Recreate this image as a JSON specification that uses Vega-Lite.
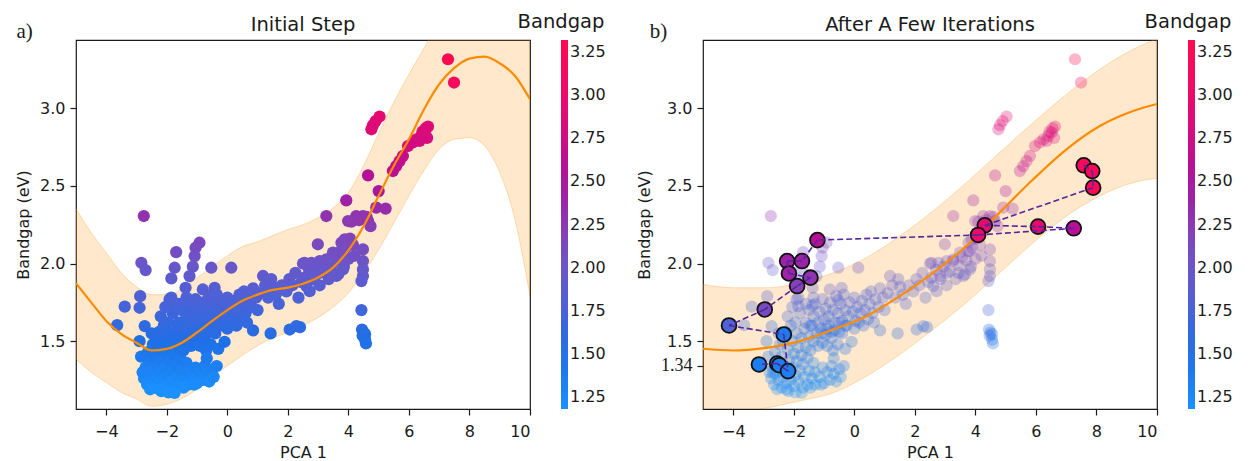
{
  "$schema": "https://vega.github.io/schema/vega-lite/v6.json",
  "background": "white",
  "padding": {"left": 14, "top": 11, "right": 0, "bottom": 0},
  "bounds": "flush",
  "spacing": 173,
  "config": {
    "font": "DejaVu Sans",
    "view": {"stroke": "#1a1a1a", "strokeWidth": 1.2},
    "axis": {"grid": false, "domain": false, "tickColor": "#1a1a1a", "tickSize": 6, "tickWidth": 1.2, "labelFontSize": 16, "labelColor": "#1a1a1a", "labelPadding": 5, "titleFontSize": 16, "titleFontWeight": "normal", "titleColor": "#1a1a1a"},
    "title": {"fontSize": 19.5, "fontWeight": "normal", "color": "#1a1a1a", "offset": -22.7},
    "legend": {"orient": "none", "legendX": 442, "legendY": -27.5, "direction": "vertical", "gradientLength": 369, "gradientThickness": 7, "titleFontSize": 19.5, "titleFontWeight": "normal", "titleAnchor": "start", "titleAlign": "center", "titlePadding": 8, "labelFontSize": 16, "labelOffset": 20, "labelOverlap": false, "gradientStrokeWidth": 0, "labelColor": "#1a1a1a", "titleColor": "#1a1a1a"}
  },
  "resolve": {"scale": {"color": "independent"}, "legend": {"color": "independent"}},
  "datasets": {
    "pts": [
      {"pca":-2.80,"gap":1.30},{"pca":-2.75,"gap":1.26},{"pca":-2.70,"gap":1.33},{"pca":-2.65,"gap":1.22},{"pca":-2.60,"gap":1.29},{"pca":-2.55,"gap":1.36},{"pca":-2.50,"gap":1.25},{"pca":-2.45,"gap":1.31},{"pca":-2.40,"gap":1.20},{"pca":-2.40,"gap":1.40},
      {"pca":-2.35,"gap":1.27},{"pca":-2.30,"gap":1.34},{"pca":-2.25,"gap":1.23},{"pca":-2.20,"gap":1.45},{"pca":-2.20,"gap":1.30},{"pca":-2.15,"gap":1.38},{"pca":-2.10,"gap":1.25},{"pca":-2.05,"gap":1.50},{"pca":-2.05,"gap":1.33},{"pca":-2.00,"gap":1.42},
      {"pca":-2.00,"gap":1.21},{"pca":-1.95,"gap":1.28},{"pca":-1.90,"gap":1.55},{"pca":-1.90,"gap":1.37},{"pca":-1.85,"gap":1.46},{"pca":-1.85,"gap":1.24},{"pca":-1.80,"gap":1.31},{"pca":-1.75,"gap":1.52},{"pca":-1.75,"gap":1.41},{"pca":-1.70,"gap":1.20},
      {"pca":-1.70,"gap":1.35},{"pca":-1.65,"gap":1.58},{"pca":-1.65,"gap":1.27},{"pca":-1.60,"gap":1.46},{"pca":-1.55,"gap":1.39},{"pca":-1.55,"gap":1.22},{"pca":-1.50,"gap":1.53},{"pca":-1.50,"gap":1.31},{"pca":-1.45,"gap":1.44},{"pca":-1.40,"gap":1.26},
      {"pca":-1.40,"gap":1.60},{"pca":-1.35,"gap":1.36},{"pca":-1.35,"gap":1.50},{"pca":-1.30,"gap":1.22},{"pca":-1.30,"gap":1.30},{"pca":-1.25,"gap":1.55},{"pca":-1.20,"gap":1.47},{"pca":-1.15,"gap":1.27},{"pca":-1.10,"gap":1.58},{"pca":-1.05,"gap":1.33},
      {"pca":-1.05,"gap":1.49},{"pca":-1.00,"gap":1.23},{"pca":-0.95,"gap":1.54},{"pca":-0.90,"gap":1.30},{"pca":-0.90,"gap":1.47},{"pca":-0.85,"gap":1.60},{"pca":-0.80,"gap":1.25},{"pca":-0.75,"gap":1.34},{"pca":-0.75,"gap":1.52},{"pca":-0.70,"gap":1.44},
      {"pca":-0.68,"gap":1.39},{"pca":-0.68,"gap":1.29},{"pca":-0.65,"gap":1.57},{"pca":-0.60,"gap":1.24},{"pca":-0.55,"gap":1.48},{"pca":-0.50,"gap":1.32},{"pca":-0.50,"gap":1.62},{"pca":-0.45,"gap":1.27},{"pca":-0.40,"gap":1.55},{"pca":-0.35,"gap":1.34},
      {"pca":-0.30,"gap":1.45},{"pca":-0.30,"gap":1.60},{"pca":-2.55,"gap":1.19},{"pca":-2.18,"gap":1.178},{"pca":-1.74,"gap":1.167},{"pca":-2.24,"gap":1.19},{"pca":-2.68,"gap":1.296},{"pca":-1.95,"gap":1.17},{"pca":-1.45,"gap":1.20},{"pca":-1.10,"gap":1.22},
      {"pca":-2.90,"gap":1.50},{"pca":-2.73,"gap":1.597},{"pca":-2.46,"gap":1.479},{"pca":-2.62,"gap":1.43},{"pca":-2.35,"gap":1.50},{"pca":-2.25,"gap":1.56},{"pca":-2.10,"gap":1.60},{"pca":-2.50,"gap":1.55},{"pca":-1.95,"gap":1.62},{"pca":-2.85,"gap":1.40},
      {"pca":-2.76,"gap":2.306},{"pca":-2.84,"gap":2.005},{"pca":-2.70,"gap":1.958},{"pca":-1.69,"gap":2.074},{"pca":-1.74,"gap":1.973},{"pca":-1.85,"gap":1.904},{"pca":-0.92,"gap":2.134},{"pca":-1.05,"gap":2.102},{"pca":-1.08,"gap":2.048},{"pca":-1.14,"gap":1.98},
      {"pca":-1.25,"gap":1.919},{"pca":-0.53,"gap":1.973},{"pca":0.13,"gap":1.973},{"pca":-2.88,"gap":1.79},{"pca":-2.90,"gap":1.715},{"pca":-3.39,"gap":1.722},{"pca":-3.64,"gap":1.603},{"pca":-1.85,"gap":1.78},{"pca":-1.85,"gap":1.726},{"pca":-1.38,"gap":1.844},
      {"pca":-1.35,"gap":1.78},{"pca":-1.38,"gap":1.73},{"pca":-0.81,"gap":1.833},{"pca":-0.42,"gap":1.844},{"pca":-0.53,"gap":1.764},{"pca":0.85,"gap":1.569},{"pca":1.43,"gap":1.55},{"pca":2.06,"gap":1.575},{"pca":2.28,"gap":1.597},{"pca":2.40,"gap":1.59},
      {"pca":-0.09,"gap":1.496},{"pca":-1.91,"gap":1.769},{"pca":-2.20,"gap":1.66},{"pca":-1.80,"gap":1.68},{"pca":-2.05,"gap":1.72},{"pca":-1.60,"gap":1.74},
      {"pca":4.43,"gap":1.70},{"pca":4.45,"gap":1.575},{"pca":4.50,"gap":1.555},{"pca":4.47,"gap":1.535},{"pca":4.55,"gap":1.545},{"pca":4.55,"gap":1.51},{"pca":4.58,"gap":1.485},
      {"pca":-1.60,"gap":1.62},{"pca":-1.50,"gap":1.70},{"pca":-1.45,"gap":1.60},{"pca":-1.35,"gap":1.66},{"pca":-1.30,"gap":1.74},{"pca":-1.20,"gap":1.62},{"pca":-1.15,"gap":1.69},{"pca":-1.05,"gap":1.77},{"pca":-1.00,"gap":1.64},{"pca":-0.95,"gap":1.71},
      {"pca":-0.85,"gap":1.66},{"pca":-0.80,"gap":1.75},{"pca":-0.70,"gap":1.70},{"pca":-0.65,"gap":1.62},{"pca":-0.60,"gap":1.79},{"pca":-0.55,"gap":1.68},{"pca":-0.45,"gap":1.74},{"pca":-0.40,"gap":1.63},{"pca":-0.35,"gap":1.80},{"pca":-0.30,"gap":1.70},
      {"pca":-0.20,"gap":1.66},{"pca":-0.15,"gap":1.75},{"pca":-0.05,"gap":1.69},{"pca":0.00,"gap":1.78},{"pca":0.05,"gap":1.63},{"pca":0.10,"gap":1.72},{"pca":0.20,"gap":1.68},{"pca":0.25,"gap":1.76},{"pca":0.35,"gap":1.70},{"pca":0.40,"gap":1.80},
      {"pca":0.50,"gap":1.74},{"pca":0.55,"gap":1.82},{"pca":0.60,"gap":1.68},{"pca":0.70,"gap":1.77},{"pca":0.80,"gap":1.72},{"pca":0.85,"gap":1.84},{"pca":0.95,"gap":1.78},{"pca":1.00,"gap":1.70},{"pca":1.10,"gap":1.81},{"pca":1.18,"gap":1.92},
      {"pca":1.25,"gap":1.86},{"pca":1.35,"gap":1.78},{"pca":1.45,"gap":1.90},{"pca":1.51,"gap":1.85},{"pca":1.60,"gap":1.80},{"pca":1.70,"gap":1.74},{"pca":1.80,"gap":1.86},{"pca":1.95,"gap":1.82},{"pca":2.05,"gap":1.90},{"pca":2.15,"gap":1.86},
      {"pca":2.25,"gap":1.94},{"pca":2.35,"gap":1.78},{"pca":2.45,"gap":1.88},{"pca":2.50,"gap":2.00},{"pca":2.61,"gap":1.855},{"pca":2.70,"gap":1.96},{"pca":2.85,"gap":1.90},{"pca":2.95,"gap":1.98},{"pca":3.05,"gap":1.86},{"pca":3.15,"gap":1.95},
      {"pca":3.27,"gap":2.016},{"pca":3.35,"gap":1.90},{"pca":3.45,"gap":1.99},{"pca":3.55,"gap":2.04},{"pca":3.60,"gap":1.92},{"pca":3.70,"gap":2.02},{"pca":3.75,"gap":2.08},{"pca":3.85,"gap":1.98},{"pca":3.90,"gap":2.10},{"pca":4.00,"gap":2.03},
      {"pca":4.05,"gap":2.16},{"pca":4.15,"gap":2.12},{"pca":4.20,"gap":2.05},{"pca":-0.90,"gap":1.58},{"pca":-0.50,"gap":1.56},{"pca":-0.25,"gap":1.60},{"pca":0.15,"gap":1.62},{"pca":0.45,"gap":1.64},{"pca":0.00,"gap":1.58},{"pca":-0.75,"gap":1.56},
      {"pca":-1.10,"gap":1.55},{"pca":0.30,"gap":1.60},{"pca":0.65,"gap":1.62},
      {"pca":7.29,"gap":3.316},{"pca":7.49,"gap":3.166},{"pca":5.03,"gap":2.947},{"pca":4.90,"gap":2.918},{"pca":4.81,"gap":2.891},{"pca":4.76,"gap":2.865},{"pca":6.63,"gap":2.882},{"pca":6.52,"gap":2.844},{"pca":6.41,"gap":2.822},{"pca":6.25,"gap":2.80},
      {"pca":6.13,"gap":2.78},{"pca":5.97,"gap":2.757},{"pca":5.80,"gap":2.693},{"pca":5.69,"gap":2.66},{"pca":5.58,"gap":2.628},{"pca":5.47,"gap":2.596},{"pca":4.65,"gap":2.568},{"pca":5.00,"gap":2.467},{"pca":3.93,"gap":2.407},{"pca":4.92,"gap":2.36},
      {"pca":5.23,"gap":2.354},{"pca":3.27,"gap":2.306},{"pca":3.99,"gap":2.274},{"pca":4.26,"gap":2.306},{"pca":4.48,"gap":2.306},{"pca":4.65,"gap":2.274},{"pca":4.73,"gap":2.241},{"pca":3.88,"gap":2.156},{"pca":3.77,"gap":2.134},{"pca":4.48,"gap":2.091},
      {"pca":2.99,"gap":2.124},{"pca":3.82,"gap":2.08},{"pca":3.49,"gap":2.07},{"pca":3.27,"gap":2.027},{"pca":3.05,"gap":2.016},{"pca":2.78,"gap":2.005},{"pca":2.55,"gap":2.005},{"pca":4.48,"gap":2.016},{"pca":4.48,"gap":1.962},{"pca":4.48,"gap":1.919},
      {"pca":4.43,"gap":1.887},{"pca":3.82,"gap":1.962},{"pca":3.66,"gap":1.93},{"pca":3.44,"gap":1.94},{"pca":3.05,"gap":1.94},{"pca":2.83,"gap":1.92},{"pca":2.55,"gap":1.909},{"pca":2.72,"gap":1.822},{"pca":6.55,"gap":2.87},{"pca":6.45,"gap":2.85},
      {"pca":6.60,"gap":2.81},{"pca":6.35,"gap":2.79},{"pca":4.10,"gap":2.27},{"pca":4.35,"gap":2.28},{"pca":4.60,"gap":2.30}
    ],
    "curveA": [
      {"pca":-5,"mean":1.873,"lo":1.384,"hi":2.354},{"pca":-4.5,"mean":1.75,"lo":1.30,"hi":2.20},{"pca":-4,"mean":1.63,"lo":1.234,"hi":2.07},{"pca":-3.5,"mean":1.545,"lo":1.17,"hi":1.94},
      {"pca":-3,"mean":1.49,"lo":1.127,"hi":1.85},{"pca":-2.5,"mean":1.44,"lo":1.08,"hi":1.80},{"pca":-2,"mean":1.45,"lo":1.094,"hi":1.80},{"pca":-1.5,"mean":1.49,"lo":1.13,"hi":1.84},
      {"pca":-1,"mean":1.556,"lo":1.19,"hi":1.91},{"pca":-0.5,"mean":1.63,"lo":1.27,"hi":1.98},{"pca":0,"mean":1.70,"lo":1.34,"hi":2.05},{"pca":0.5,"mean":1.76,"lo":1.41,"hi":2.11},
      {"pca":1,"mean":1.80,"lo":1.47,"hi":2.14},{"pca":1.5,"mean":1.83,"lo":1.52,"hi":2.18},{"pca":2,"mean":1.845,"lo":1.556,"hi":2.22},{"pca":2.5,"mean":1.87,"lo":1.60,"hi":2.25},
      {"pca":3,"mean":1.91,"lo":1.652,"hi":2.296},{"pca":3.5,"mean":1.975,"lo":1.72,"hi":2.36},{"pca":4,"mean":2.085,"lo":1.81,"hi":2.457},{"pca":4.5,"mean":2.24,"lo":1.94,"hi":2.63},
      {"pca":5,"mean":2.436,"lo":2.09,"hi":2.84},{"pca":5.5,"mean":2.63,"lo":2.26,"hi":3.04},{"pca":6,"mean":2.80,"lo":2.436,"hi":3.22},{"pca":6.5,"mean":2.994,"lo":2.60,"hi":3.388},
      {"pca":7,"mean":3.155,"lo":2.736,"hi":3.574},{"pca":7.5,"mean":3.26,"lo":2.80,"hi":3.72},{"pca":8,"mean":3.32,"lo":2.81,"hi":3.83},{"pca":8.5,"mean":3.333,"lo":2.757,"hi":3.909},
      {"pca":9,"mean":3.29,"lo":2.586,"hi":3.994},{"pca":9.5,"mean":3.21,"lo":2.285,"hi":4.135},{"pca":10,"mean":3.058,"lo":1.79,"hi":4.326}
    ],
    "curveB": [
      {"pca":-5,"mean":1.451,"lo":1.036,"hi":1.866},{"pca":-4.01,"mean":1.44,"lo":1.035,"hi":1.844},{"pca":-2.9,"mean":1.457,"lo":1.07,"hi":1.844},{"pca":-1.8,"mean":1.50,"lo":1.115,"hi":1.877},
      {"pca":-0.7,"mean":1.575,"lo":1.167,"hi":1.94},{"pca":0.4,"mean":1.661,"lo":1.274,"hi":2.038},{"pca":1.5,"mean":1.79,"lo":1.414,"hi":2.177},{"pca":2.6,"mean":1.94,"lo":1.575,"hi":2.338},
      {"pca":3.7,"mean":2.113,"lo":1.748,"hi":2.521},{"pca":4.8,"mean":2.328,"lo":1.94,"hi":2.715},{"pca":5.91,"mean":2.543,"lo":2.134,"hi":2.908},{"pca":7.01,"mean":2.736,"lo":2.306,"hi":3.09},
      {"pca":8.11,"mean":2.886,"lo":2.435,"hi":3.252},{"pca":9.21,"mean":2.983,"lo":2.521,"hi":3.38},{"pca":10,"mean":3.028,"lo":2.55,"hi":3.45}
    ],
    "hl": [
      {"pca":7.58,"gap":2.633,"c":3.2},{"pca":7.86,"gap":2.596,"c":3.2},{"pca":7.89,"gap":2.489,"c":3.25},{"pca":4.31,"gap":2.246,"c":2.95},{"pca":4.09,"gap":2.184,"c":3.0},
      {"pca":6.07,"gap":2.238,"c":2.95},{"pca":7.25,"gap":2.227,"c":2.6},{"pca":-1.22,"gap":2.151,"c":2.6},{"pca":-2.22,"gap":2.016,"c":2.4},{"pca":-1.73,"gap":2.016,"c":2.4},
      {"pca":-2.16,"gap":1.936,"c":2.4},{"pca":-1.45,"gap":1.909,"c":2.3},{"pca":-1.89,"gap":1.855,"c":2.2},{"pca":-2.96,"gap":1.704,"c":2.1},{"pca":-4.14,"gap":1.601,"c":1.8},
      {"pca":-2.33,"gap":1.543,"c":1.4},{"pca":-3.15,"gap":1.35,"c":1.35},{"pca":-2.55,"gap":1.356,"c":1.35},{"pca":-2.48,"gap":1.345,"c":1.35},{"pca":-2.19,"gap":1.307,"c":1.35}
    ],
    "arrows": [
      {"pca":7.58,"gap":2.633,"pca2":7.86,"gap2":2.596},{"pca":7.86,"gap":2.596,"pca2":7.89,"gap2":2.489},{"pca":7.89,"gap":2.489,"pca2":4.31,"gap2":2.246},
      {"pca":4.31,"gap":2.246,"pca2":6.07,"gap2":2.238},{"pca":6.07,"gap":2.238,"pca2":7.25,"gap2":2.227},{"pca":7.25,"gap":2.227,"pca2":4.09,"gap2":2.184},
      {"pca":4.09,"gap":2.184,"pca2":-1.22,"gap2":2.151},{"pca":-1.22,"gap":2.151,"pca2":-1.73,"gap2":2.016},{"pca":-1.73,"gap":2.016,"pca2":-2.22,"gap2":2.016},
      {"pca":-2.22,"gap":2.016,"pca2":-2.16,"gap2":1.936},{"pca":-2.16,"gap":1.936,"pca2":-1.45,"gap2":1.909},{"pca":-1.45,"gap":1.909,"pca2":-1.89,"gap2":1.855},
      {"pca":-1.89,"gap":1.855,"pca2":-2.96,"gap2":1.704},{"pca":-2.96,"gap":1.704,"pca2":-4.14,"gap2":1.601},{"pca":-4.14,"gap":1.601,"pca2":-2.33,"gap2":1.543},
      {"pca":-2.33,"gap":1.543,"pca2":-2.19,"gap2":1.307},{"pca":-2.19,"gap":1.307,"pca2":-2.55,"gap2":1.356},{"pca":-2.55,"gap":1.356,"pca2":-3.15,"gap2":1.35}
    ]
  },
  "hconcat": [
    {
      "width": 454,
      "height": 369,
      "title": "Initial Step",
      "layer": [
        {
          "data": {"name": "curveA"},
          "mark": {"type": "area", "clip": true, "interpolate": "monotone", "fill": "#ff8c00", "fillOpacity": 0.2, "stroke": "#ff8c00", "strokeOpacity": 0.25, "strokeWidth": 1},
          "encoding": {
            "x": {"field": "pca", "type": "quantitative", "title": "PCA 1", "scale": {"domain": [-5, 10], "nice": false, "zero": false}, "axis": {"values": [-4,-2,0,2,4,6,8,10], "format": "d", "titlePadding": 5, "labelPadding": 8}},
            "y": {"field": "lo", "type": "quantitative", "title": "Bandgap (eV)", "scale": {"domain": [1.063, 3.44], "nice": false, "zero": false}, "axis": {"values": [1.5,2,2.5,3], "format": ".1f", "titlePadding": 8}},
            "y2": {"field": "hi"}
          }
        },
        {
          "data": {"name": "pts"},
          "mark": {"type": "circle", "size": 150, "opacity": 1},
          "encoding": {
            "x": {"field": "pca", "type": "quantitative", "title": "PCA 1"},
            "y": {"field": "gap", "type": "quantitative", "title": "Bandgap (eV)"},
            "color": {"field": "gap", "type": "quantitative", "title": "Bandgap",
              "scale": {"domain": [1.18,1.5,1.75,2.0,2.25,2.5,2.75,3.0,3.32], "range": ["#1a90ff","#1f6fe6","#4a62d8","#6a56c8","#8a3cb4","#a8139f","#d00c84","#ec0a6a","#ff0a50"], "interpolate": "rgb"},
              "legend": {"values": [1.25,1.5,1.75,2,2.25,2.5,2.75,3,3.25], "format": ".2f"}}
          }
        },
        {
          "data": {"name": "curveA"},
          "mark": {"type": "line", "clip": true, "interpolate": "monotone", "color": "#ff8c00", "strokeWidth": 2.2},
          "encoding": {
            "x": {"field": "pca", "type": "quantitative", "title": "PCA 1"},
            "y": {"field": "mean", "type": "quantitative", "title": "Bandgap (eV)"}
          }
        },
        {
          "data": {"values": [{"lab": "a)"}]},
          "mark": {"type": "text", "font": "Liberation Serif", "fontSize": 21, "align": "center", "baseline": "middle", "color": "#1a1a1a"},
          "encoding": {
            "x": {"datum": -6.7, "type": "quantitative"},
            "y": {"datum": 3.49, "type": "quantitative"},
            "text": {"field": "lab"}
          }
        }
      ]
    },
    {
      "width": 454,
      "height": 369,
      "title": "After A Few Iterations",
      "layer": [
        {
          "data": {"name": "curveB"},
          "mark": {"type": "area", "clip": true, "interpolate": "monotone", "fill": "#ff8c00", "fillOpacity": 0.2, "stroke": "#ff8c00", "strokeOpacity": 0.25, "strokeWidth": 1},
          "encoding": {
            "x": {"field": "pca", "type": "quantitative", "title": "PCA 1", "scale": {"domain": [-5, 10], "nice": false, "zero": false}, "axis": {"values": [-4,-2,0,2,4,6,8,10], "format": "d", "titlePadding": 5, "labelPadding": 8}},
            "y": {"field": "lo", "type": "quantitative", "title": "Bandgap (eV)", "scale": {"domain": [1.063, 3.44], "nice": false, "zero": false},
              "axis": {"values": [1.34,1.5,2,2.5,3], "labelExpr": "datum.value == 1.34 ? '1.34' : format(datum.value, '.1f')", "titlePadding": 8,
                "labelFont": {"condition": {"test": "datum.value == 1.34", "value": "Liberation Serif"}, "value": "DejaVu Sans"},
                "labelFontSize": {"condition": {"test": "datum.value == 1.34", "value": 18}, "value": 16}}},
            "y2": {"field": "hi"}
          }
        },
        {
          "data": {"name": "pts"},
          "mark": {"type": "circle", "size": 150, "fillOpacity": 0.3},
          "encoding": {
            "x": {"field": "pca", "type": "quantitative", "title": "PCA 1"},
            "y": {"field": "gap", "type": "quantitative", "title": "Bandgap (eV)"},
            "color": {"field": "gap", "type": "quantitative", "title": "Bandgap",
              "scale": {"domain": [1.18,1.5,1.75,2.0,2.25,2.5,2.75,3.0,3.32], "range": ["#1a90ff","#1f6fe6","#4a62d8","#6a56c8","#8a3cb4","#a8139f","#d00c84","#ec0a6a","#ff0a50"], "interpolate": "rgb"},
              "legend": {"values": [1.25,1.5,1.75,2,2.25,2.5,2.75,3,3.25], "format": ".2f"}}
          }
        },
        {
          "data": {"name": "curveB"},
          "mark": {"type": "line", "clip": true, "interpolate": "monotone", "color": "#ff8c00", "strokeWidth": 2.2},
          "encoding": {
            "x": {"field": "pca", "type": "quantitative", "title": "PCA 1"},
            "y": {"field": "mean", "type": "quantitative", "title": "Bandgap (eV)"}
          }
        },
        {
          "mark": {"type": "rule", "color": "#808080", "strokeDash": [5, 3], "strokeWidth": 1.2},
          "encoding": {"y": {"datum": 1.34, "type": "quantitative"}}
        },
        {
          "data": {"name": "hl"},
          "mark": {"type": "circle", "size": 220, "opacity": 1, "stroke": "#111111", "strokeWidth": 1.8},
          "encoding": {
            "x": {"field": "pca", "type": "quantitative", "title": "PCA 1"},
            "y": {"field": "gap", "type": "quantitative", "title": "Bandgap (eV)"},
            "color": {"field": "c", "type": "quantitative", "title": "Bandgap"}
          }
        },
        {
          "data": {"name": "arrows"},
          "mark": {"type": "rule", "color": "#55259a", "strokeDash": [6, 3], "strokeWidth": 1.6},
          "encoding": {
            "x": {"field": "pca", "type": "quantitative", "title": "PCA 1"},
            "y": {"field": "gap", "type": "quantitative", "title": "Bandgap (eV)"},
            "x2": {"field": "pca2"},
            "y2": {"field": "gap2"}
          }
        },
        {
          "data": {"values": [{"lab": "b)"}]},
          "mark": {"type": "text", "font": "Liberation Serif", "fontSize": 21, "align": "center", "baseline": "middle", "color": "#1a1a1a"},
          "encoding": {
            "x": {"datum": -6.47, "type": "quantitative"},
            "y": {"datum": 3.49, "type": "quantitative"},
            "text": {"field": "lab"}
          }
        }
      ]
    }
  ]
}
